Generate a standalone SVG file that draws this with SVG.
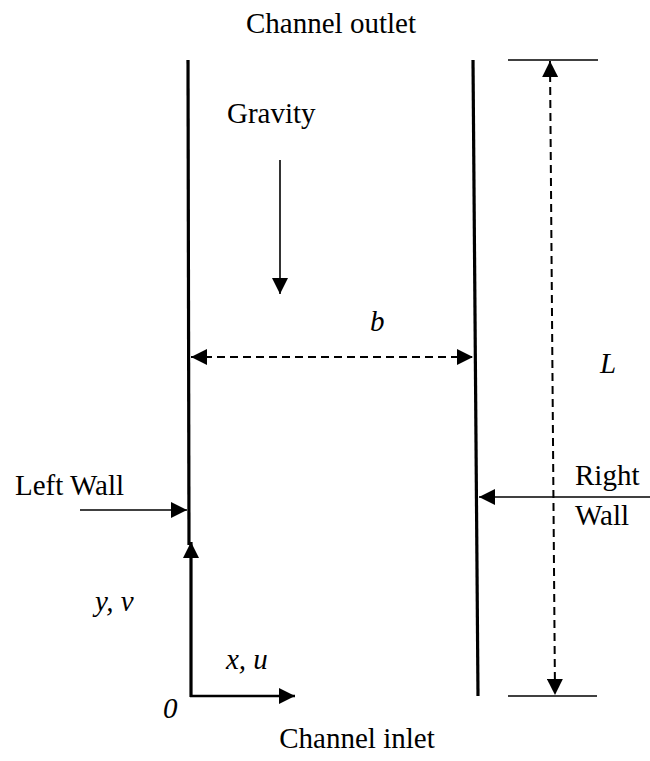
<svg xmlns="http://www.w3.org/2000/svg" width="650" height="761" viewBox="0 0 650 761">
<style>
text{font-family:"Liberation Serif","Times New Roman",serif;font-size:29px;fill:#000}
.it{font-style:italic}
.wall{stroke:#000;stroke-width:3.2;fill:none}
.thin{stroke:#000;stroke-width:1.6;fill:none}
.dash{stroke:#000;stroke-width:2;stroke-dasharray:8 5;fill:none}
</style>
<defs>
<marker id="ah" markerUnits="userSpaceOnUse" markerWidth="16" markerHeight="16" viewBox="0 0 16 16" refX="16" refY="8" orient="auto-start-reverse">
<path d="M0,0 L16,8 L0,16 Z" fill="#000"/>
</marker>
</defs>
<rect width="650" height="761" fill="#fff"/>
<g id="connectors">
<line id="gravity-arrow" class="thin" x1="280" y1="160" x2="280" y2="294" marker-end="url(#ah)"/>
<line id="b-dim" class="dash" x1="191" y1="357" x2="473" y2="357" marker-start="url(#ah)" marker-end="url(#ah)"/>
<line id="L-dim" class="dash" x1="550" y1="61" x2="555" y2="695" marker-start="url(#ah)" marker-end="url(#ah)"/>
<line id="left-wall-arrow" class="thin" x1="80" y1="510" x2="187" y2="510" marker-end="url(#ah)"/>
<line id="right-wall-arrow" class="thin" x1="650" y1="497" x2="479" y2="497" marker-end="url(#ah)"/>
<line id="y-axis" class="wall" x1="191" y1="697" x2="191" y2="542" marker-end="url(#ah)"/>
<line id="x-axis" class="wall" style="stroke-width:2.4" x1="190" y1="696" x2="295" y2="696" marker-end="url(#ah)"/>
</g>
<g id="left-wall">
<line class="wall" x1="188" y1="60" x2="189" y2="545"/>
<text x="15" y="495">Left Wall</text>
</g>
<g id="right-wall">
<line class="wall" x1="473" y1="60" x2="478" y2="696"/>
<text x="575" y="485">Right</text>
<text x="575" y="525">Wall</text>
</g>
<g id="L-marks">
<line class="thin" x1="508" y1="60" x2="598" y2="60"/>
<line class="thin" x1="508" y1="696" x2="597" y2="696"/>
<text class="it" x="600" y="373">L</text>
</g>
<g id="labels">
<text x="331" y="33" text-anchor="middle">Channel outlet</text>
<text x="357" y="748" text-anchor="middle">Channel inlet</text>
<text x="227" y="123">Gravity</text>
<text class="it" x="370" y="331">b</text>
<text class="it" x="95" y="611">y, v</text>
<text class="it" x="226" y="669">x, u</text>
<text class="it" x="163" y="718">0</text>
</g>
</svg>
